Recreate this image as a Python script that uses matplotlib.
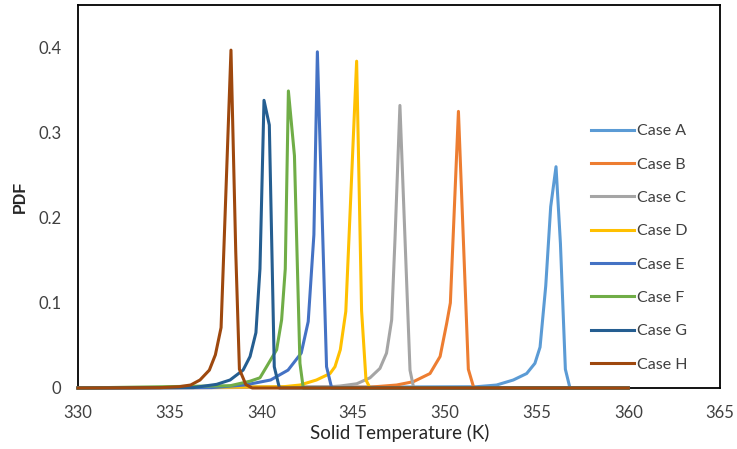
import matplotlib
matplotlib.use("Agg")
import matplotlib.pyplot as plt

# Solid temperature (K) and PDF values for each case
case_labels = ["Case A", "Case B", "Case C", "Case D", "Case E", "Case F", "Case G", "Case H"]

temp_a = [330, 351.73, 352.82, 353.73, 354.46, 354.91, 355.19, 355.5, 355.77, 356.06, 356.3, 356.57, 356.82, 360]
pdf_a = [0, 0.0015, 0.0035, 0.0094, 0.017, 0.029, 0.048, 0.12, 0.213, 0.26, 0.17, 0.022, 0, 0]

temp_b = [330, 345.9, 347.37, 348.28, 349.19, 349.74, 350.1, 350.3, 350.74, 351.28, 351.58, 360]
pdf_b = [0, 0.001, 0.0035, 0.0074, 0.017, 0.037, 0.076, 0.10, 0.325, 0.022, 0, 0]

temp_c = [330, 343.74, 344.28, 345.2, 345.92, 346.46, 346.82, 347.1, 347.28, 347.55, 348.1, 348.3, 360]
pdf_c = [0, 0.0015, 0.0023, 0.005, 0.012, 0.023, 0.041, 0.08, 0.174, 0.332, 0.021, 0, 0]

temp_d = [330, 341.2, 342.1, 343.0, 343.74, 344.01, 344.3, 344.6, 345.19, 345.46, 345.7, 345.92, 360]
pdf_d = [0, 0.0015, 0.0035, 0.0094, 0.017, 0.025, 0.045, 0.09, 0.384, 0.091, 0.0094, 0, 0]

temp_e = [330, 337.3, 339.09, 340.5, 341.45, 342.17, 342.55, 342.86, 343.05, 343.55, 343.83, 360]
pdf_e = [0, 0.0005, 0.0035, 0.0094, 0.021, 0.041, 0.078, 0.18, 0.395, 0.025, 0, 0]

temp_f = [330, 338.3, 339.38, 339.92, 340.28, 340.83, 341.1, 341.3, 341.47, 341.8, 342.1, 342.28, 360]
pdf_f = [0, 0.0027, 0.008, 0.012, 0.025, 0.045, 0.08, 0.14, 0.349, 0.273, 0.029, 0, 0]

temp_g = [330, 336.3, 337.56, 338.29, 339.0, 339.38, 339.7, 339.92, 340.14, 340.43, 340.7, 340.98, 360]
pdf_g = [0, 0.0005, 0.0043, 0.0094, 0.021, 0.037, 0.065, 0.14, 0.338, 0.309, 0.025, 0, 0]

temp_h = [330, 334.47, 335.5, 336.14, 336.65, 337.16, 337.49, 337.8, 338.34, 338.6, 338.8, 339.15, 339.5, 360]
pdf_h = [0, 0.0004, 0.0015, 0.0035, 0.0094, 0.021, 0.039, 0.071, 0.397, 0.16, 0.022, 0.004, 0, 0]

x_ticks = [330, 335, 340, 345, 350, 355, 360, 365]
y_ticks = [0, 0.1, 0.2, 0.3, 0.4]
y_tick_labels = ["0", "0.1", "0.2", "0.3", "0.4"]

series = [
    (temp_a, pdf_a), (temp_b, pdf_b), (temp_c, pdf_c), (temp_d, pdf_d),
    (temp_e, pdf_e), (temp_f, pdf_f), (temp_g, pdf_g), (temp_h, pdf_h),
]
colors = ["#5B9BD5", "#ED7D31", "#A5A5A5", "#FFC000",
          "#4472C4", "#70AD47", "#255E91", "#9E480E"]

plt.rcParams["font.family"] = ["Lato", "DejaVu Sans"]

fig = plt.figure(figsize=(7.37, 4.49), dpi=100)
ax = fig.add_axes([78 / 737, 1 - 388 / 449, (720 - 78) / 737, (388 - 5) / 449])

for (t, p), c, lab in zip(series, colors, case_labels):
    ax.plot(t, p, color=c, lw=2.2, label=lab, clip_on=False, solid_joinstyle="round")

ax.set_xlim(330, 365)
ax.set_ylim(0, 0.45)
ax.set_xticks(x_ticks)
ax.set_yticks(y_ticks)
ax.set_yticklabels(y_tick_labels)
ax.tick_params(axis="both", length=0, labelsize=12, colors="#404040")
ax.tick_params(axis="x", pad=12)
ax.tick_params(axis="y", pad=12)

for s in ax.spines.values():
    s.set_color("black")
    s.set_linewidth(1.3)
    s.set_zorder(0.5)

ax.set_xlabel("Solid Temperature (K)", fontsize=13.5, color="#262626")
ax.xaxis.set_label_coords(400 / 737, 1 - 433 / 449, transform=fig.transFigure)
ax.xaxis.label.set_verticalalignment("center")
ax.set_ylabel("PDF", fontsize=11.5, fontweight="bold", family="Liberation Sans",
              color="#262626")
ax.yaxis.set_label_coords(20 / 737, 1 - 197 / 449, transform=fig.transFigure)
ax.yaxis.label.set_verticalalignment("center")

leg = ax.legend(loc="upper left", bbox_to_anchor=(591 / 737, 1 - 124 / 449),
                bbox_transform=fig.transFigure, frameon=False, fontsize=11.5,
                handlelength=2.7, handletextpad=0.2, labelspacing=1.2,
                borderpad=0, borderaxespad=0)
for txt in leg.get_texts():
    txt.set_color("#404040")

fig.savefig("out.png", dpi=100)
